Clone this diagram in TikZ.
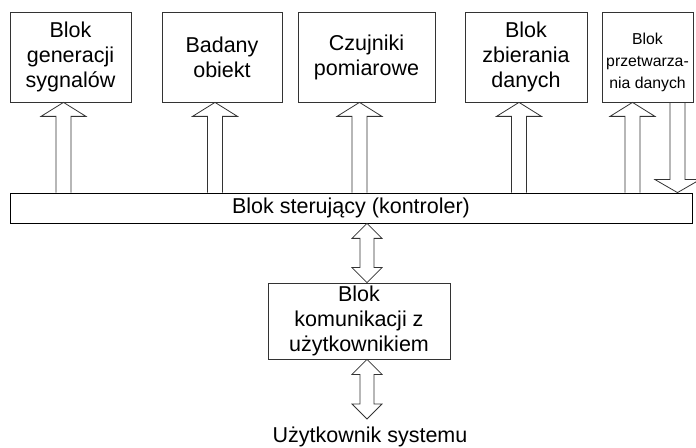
\documentclass[tikz,border=0pt]{standalone}
\usepackage{fontspec}
\setmainfont{Liberation Sans}
\usetikzlibrary{calc}
\begin{document}
\begin{tikzpicture}[x=1bp,y=-1bp,
  box/.style={draw=black!80,line width=0.8bp,align=center,inner sep=0pt,
    font=\fontsize{21.5bp}{25bp}\selectfont,minimum height=90bp},
  arr/.style={draw=black!80,line width=0.8bp},
  upblock/.style={arr,to path={let \p1=(\tikztostart),\p2=(\tikztotarget) in
    (\x1-7.5bp,\y1) -- (\x1-7.5bp,\y2-14bp) -- (\x1-22.5bp,\y2-14bp) -- (\x2,\y2)
    -- (\x1+22.5bp,\y2-14bp) -- (\x1+7.5bp,\y2-14bp) -- (\x1+7.5bp,\y1)}},
  downblock/.style={arr,to path={let \p1=(\tikztostart),\p2=(\tikztotarget) in
    (\x1-7.5bp,\y1) -- (\x1-7.5bp,\y2+13bp) -- (\x1-22.5bp,\y2+13bp) -- (\x2,\y2)
    -- (\x1+22.5bp,\y2+13bp) -- (\x1+7.5bp,\y2+13bp) -- (\x1+7.5bp,\y1)}},
  dblock/.style={arr,to path={let \p1=(\tikztostart),\p2=(\tikztotarget) in
    (\x1,\y1) -- (\x1-15bp,\y1-15bp) -- (\x1-7bp,\y1-15bp) -- (\x1-7bp,\y2+15bp)
    -- (\x1-15bp,\y2+15bp) -- (\x2,\y2) -- (\x1+15bp,\y2+15bp) -- (\x1+7bp,\y2+15bp)
    -- (\x1+7bp,\y1-15bp) -- (\x1+15bp,\y1-15bp) -- cycle}}
]
\useasboundingbox (0,0) rectangle (696,448);
\node[box,minimum width=121bp] (b1) at (70.5,57) {Blok\\generacji\\sygnalów};
\node[box,minimum width=120bp] (b2) at (222,57) {Badany\\obiekt};
\node[box,minimum width=137bp] (b3) at (366.5,57) {Czujniki\\pomiarowe};
\node[box,minimum width=122bp] (b4) at (526,57) {Blok\\zbierania\\danych};
\node[draw=black!80,line width=0.8bp,inner sep=0pt,minimum width=91bp,minimum height=90bp] (b5) at (647.5,57) {};
\node[align=center,inner sep=0pt,font=\fontsize{15.8bp}{22bp}\selectfont] (t5) at ([yshift=-5bp]b5.center) {Blok\\przetwarza-\\nia danych};
\node[draw=black,line width=0.8bp,inner sep=0pt,minimum width=682bp,minimum height=30bp,
  font=\fontsize{21.5bp}{25bp}\selectfont] (bar) at (351,208) {Blok sterujący (kontroler)};
\node[box,minimum width=182bp,minimum height=76bp] (kom) at (359,321) {Blok\\komunikacji z\\użytkownikiem};
\node[font=\fontsize{21.5bp}{25bp}\selectfont,anchor=base,inner sep=0pt] (user) at (370,442) {Użytkownik systemu};
\coordinate (a1) at (63.5,0);
\coordinate (a2) at (215,0);
\coordinate (a3) at (359.5,0);
\coordinate (a4) at (519,0);
\coordinate (a5) at (632.5,0);
\coordinate (a6) at (677.5,0);
\coordinate (a7) at (367,0);
\coordinate (ue) at (367,419);
\draw[upblock] (bar.north -| a1) to (b1.south -| a1);
\draw[upblock] (bar.north -| a2) to (b2.south -| a2);
\draw[upblock] (bar.north -| a3) to (b3.south -| a3);
\draw[upblock] (bar.north -| a4) to (b4.south -| a4);
\draw[upblock] (bar.north -| a5) to (b5.south -| a5);
\draw[downblock] (b5.south -| a6) to (bar.north -| a6);
\draw[dblock] (bar.south -| a7) to (kom.north -| a7);
\draw[dblock] (kom.south -| a7) to (ue);
\end{tikzpicture}
\end{document}
